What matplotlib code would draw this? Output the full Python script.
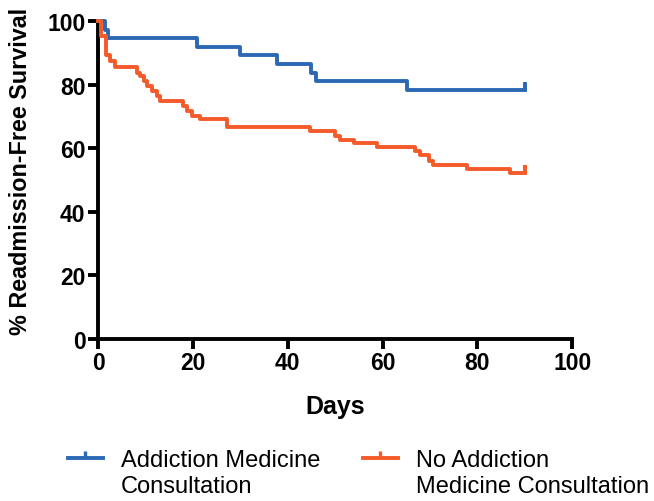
import numpy as np
import matplotlib
matplotlib.use("Agg")
from matplotlib import pyplot as plt
from matplotlib.lines import Line2D

plt.rcParams['font.family'] = ['Liberation Sans', 'DejaVu Sans']

# Kaplan-Meier steps (days, % survival)
consult_days = [0, 1.5, 2.1, 20.9, 30, 37.8, 45, 46, 65.1, 90]
consult_surv = [100, 97.3, 94.6, 91.9, 89.2, 86.5, 83.8, 81.1, 78.4, 78.4]

noconsult_days = [0, 0.6, 1.7, 2.5, 3.6, 8.2, 8.9, 9.6, 10.3, 11.3, 12.4, 13.1,
                  18.0, 18.7, 19.8, 21.5, 27.1, 44.7, 50.0, 51.0, 53.9, 58.9,
                  66.9, 67.8, 69.7, 70.7, 77.8, 86.8, 90]
noconsult_surv = [100, 95.2, 89.3, 87.5, 85.4, 83.8, 82.6, 81.2, 79.7, 78.1, 76.3, 74.9,
                  73.4, 71.8, 70.2, 69.2, 66.6, 65.3, 63.9, 62.7, 61.5, 60.3,
                  59.2, 58.0, 56.1, 54.7, 53.5, 52.2, 52.2]

labels = ["Addiction Medicine\nConsultation", "No Addiction\nMedicine Consultation"]
colors = ["#2c68b4", "#f45a2a"]

fig = plt.figure(figsize=(6.54, 5.02), dpi=100)
ax = fig.add_axes([0.150, 0.323, 0.725, 0.633])

for d, s, c in [(consult_days, consult_surv, colors[0]),
                (noconsult_days, noconsult_surv, colors[1])]:
    ax.step(d, s, where='post', color=c, lw=2.8, clip_on=False, zorder=3)
    # censor tick at the end
    ax.plot(d[-1], s[-1], marker=2, color=c, ms=6, mew=2.8, clip_on=False, zorder=3)

ax.set_xlim(0, 100)
ax.set_ylim(0, 100)
ax.set_xticks(np.arange(0, 101, 20))
ax.set_yticks(np.arange(0, 101, 20))
for sp in ['top', 'right']:
    ax.spines[sp].set_visible(False)
for sp in ['left', 'bottom']:
    ax.spines[sp].set_linewidth(2.8)
ax.tick_params(width=2.8, length=7, labelsize=16.5, pad=2)
for t in ax.get_xticklabels() + ax.get_yticklabels():
    t.set_fontweight('bold')

ax.set_xlabel("Days", fontsize=18, fontweight='bold')
ax.xaxis.set_label_coords(0.5, -0.175)
ax.set_ylabel("% Readmission-Free Survival", fontsize=16.8, fontweight='bold')
ax.yaxis.set_label_coords(-0.14, 0.53)

handles = [Line2D([], [], color=c, lw=2.8, marker=2, ms=5, mew=2.4) for c in colors]
leg = fig.legend(handles, labels, loc='upper center', bbox_to_anchor=(0.548, 0.136),
                 ncol=2, frameon=False, fontsize=17, handlelength=1.5, handletextpad=0.75,
                 columnspacing=1.8, numpoints=1, borderpad=0.2)
for t in leg.get_texts():
    t.set_linespacing(1.2)
# put each handle next to the first text line
for col in leg._legend_handle_box.get_children():
    for row in col.get_children():
        row.align = 'top'

fig.savefig("out.png", dpi=100)
